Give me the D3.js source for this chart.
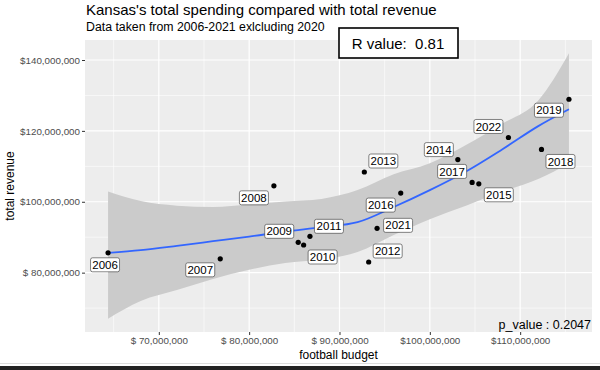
<!DOCTYPE html>
<meta charset="utf-8">
<style>
body { margin: 0; background: #fff; }
text { font-family: "Liberation Sans", Arial, sans-serif; }
</style>
<body>
<script src="https://cdn.jsdelivr.net/npm/d3@7"></script>
<script>

// data, in millions of dollars
var years   = ["2006","2007","2008","2009","2010","2011","2012","2013","2014","2015","2016","2017","2018","2019","2021","2022"];
var budget  = [64.38, 76.8, 82.74, 85.43, 86.03, 86.73, 93.23, 92.75, 103.1, 105.42, 96.78, 104.68, 112.36, 115.4, 94.16, 108.7];
var revenue = [85.6, 83.9, 104.5, 88.56, 87.8, 90.25, 83.0, 108.4, 111.9, 105.07, 102.45, 105.46, 114.76, 128.93, 92.5, 118.14];

// loess fit and its confidence band
var smoothX     = [64.38, 68, 72, 76, 80, 84, 88, 92, 96, 100, 104, 108, 112, 115.4];
var smoothFit   = [85.55, 86.37, 87.58, 88.87, 90.17, 91.61, 92.82, 94.23, 98.51, 103.27, 108.54, 114.76, 121.35, 126.11];
var smoothUpper = [102.9, 100.2, 98.9, 98.5, 99.2, 100.1, 100.8, 103.3, 107.8, 110.9, 116.0, 122.0, 128.6, 141.9];
var smoothLower = [67.0, 72.0, 75.1, 78.2, 80.8, 82.7, 83.7, 85.8, 90.6, 95.1, 98.9, 102.8, 106.4, 110.9];

var xTicks = [70, 80, 90, 100, 110];
var yTicks = [80, 100, 120, 140];
var xMinor = [65, 75, 85, 95, 105, 115];
var yMinor = [70, 90, 110, 130];

var rValue = "0.81";
var pValue = "0.2047";

// where the repelled labels ended up, relative to their point (px)
var labelShift = {
  "2006": [-3, 12], "2007": [-20, 11], "2008": [-20, 12], "2009": [-19, -11],
  "2010": [19, 12], "2011": [19, -10], "2012": [19, -11], "2013": [19, -11],
  "2014": [-19, -10], "2015": [20, 11], "2016": [-20, 12], "2017": [-20, -11],
  "2018": [19, 12], "2019": [-20, 11], "2021": [21, -3], "2022": [-20, -11]
};

var W = 600, H = 370;
var panel = {left: 85, right: 592, top: 40, bottom: 332};

function expand(lo, hi) {
  var e = (hi - lo) * 0.05;
  return [lo - e, hi + e];
}

var x = d3.scaleLinear()
  .domain(expand(d3.min(smoothX.concat(budget)), d3.max(smoothX.concat(budget))))
  .range([panel.left, panel.right]);
var y = d3.scaleLinear()
  .domain(expand(d3.min(smoothLower.concat(revenue)), d3.max(smoothUpper.concat(revenue))))
  .range([panel.bottom, panel.top]);

var svg = d3.select("body").append("svg")
  .attr("width", W).attr("height", H);

svg.append("rect").attr("width", W).attr("height", H).attr("fill", "#fff");

// panel
svg.append("rect")
  .attr("x", panel.left).attr("y", panel.top)
  .attr("width", panel.right - panel.left).attr("height", panel.bottom - panel.top)
  .attr("fill", "#ededed");

var grid = svg.append("g").attr("stroke", "#fff");
grid.selectAll(".xm").data(xMinor).enter().append("line")
  .attr("x1", d => x(d)).attr("x2", d => x(d))
  .attr("y1", panel.top).attr("y2", panel.bottom).attr("stroke-width", 0.6);
grid.selectAll(".ym").data(yMinor).enter().append("line")
  .attr("y1", d => y(d)).attr("y2", d => y(d))
  .attr("x1", panel.left).attr("x2", panel.right).attr("stroke-width", 0.6);
grid.selectAll(".xM").data(xTicks).enter().append("line")
  .attr("x1", d => x(d)).attr("x2", d => x(d))
  .attr("y1", panel.top).attr("y2", panel.bottom).attr("stroke-width", 1.2);
grid.selectAll(".yM").data(yTicks).enter().append("line")
  .attr("y1", d => y(d)).attr("y2", d => y(d))
  .attr("x1", panel.left).attr("x2", panel.right).attr("stroke-width", 1.2);

// smoother
var band = smoothX.map((d, i) => ({x: d, lo: smoothLower[i], hi: smoothUpper[i], f: smoothFit[i]}));

svg.append("path")
  .datum(band)
  .attr("fill", "#cbcbcb")
  .attr("d", d3.area().curve(d3.curveMonotoneX)
    .x(d => x(d.x)).y0(d => y(d.lo)).y1(d => y(d.hi)));

svg.append("path")
  .datum(band)
  .attr("fill", "none")
  .attr("stroke", "#3366ff")
  .attr("stroke-width", 1.8)
  .attr("d", d3.line().curve(d3.curveMonotoneX).x(d => x(d.x)).y(d => y(d.f)));

// points
var pts = years.map((yr, i) => ({year: yr, b: budget[i], r: revenue[i]}));

svg.append("g").selectAll("circle")
  .data(pts).enter().append("circle")
  .attr("cx", d => x(d.b)).attr("cy", d => y(d.r))
  .attr("r", 2.6).attr("fill", "#000");

// labels
var lab = svg.append("g").selectAll("g")
  .data(pts).enter().append("g")
  .attr("transform", d => "translate(" + (x(d.b) + labelShift[d.year][0]) + "," + (y(d.r) + labelShift[d.year][1]) + ")");
lab.append("rect")
  .attr("x", -14.5).attr("y", -7).attr("width", 29).attr("height", 14)
  .attr("rx", 2).attr("fill", "#fff").attr("stroke", "#333").attr("stroke-width", 0.6);
lab.append("text")
  .attr("text-anchor", "middle").attr("dy", "0.36em")
  .attr("font-size", 11.5).attr("fill", "#000")
  .text(d => d.year);

// axes
var money = d3.format(",");
function dollar(m) {
  var s = money(m * 1e6);
  return s.length < 11 ? "$ " + s : "$" + s;
}

var xAxis = svg.append("g")
  .attr("transform", "translate(0," + panel.bottom + ")")
  .call(d3.axisBottom(x).tickValues(xTicks).tickSize(3).tickPadding(2).tickFormat(dollar));
var yAxis = svg.append("g")
  .attr("transform", "translate(" + panel.left + ",0)")
  .call(d3.axisLeft(y).tickValues(yTicks).tickSize(3).tickPadding(2).tickFormat(dollar));

[xAxis, yAxis].forEach(function (a) {
  a.select(".domain").remove();
  a.selectAll(".tick line").attr("stroke", "#333");
  a.selectAll(".tick text")
    .attr("fill", "#4d4d4d").attr("font-size", 9.8)
    .attr("font-family", "Liberation Sans, Arial, sans-serif");
});

// titles
svg.append("text").attr("x", 86).attr("y", 15)
  .attr("font-size", 15).attr("fill", "#000")
  .text("Kansas's total spending compared with total revenue");
svg.append("text").attr("x", 86).attr("y", 31)
  .attr("font-size", 12.3).attr("fill", "#000")
  .text("Data taken from 2006-2021 exlcluding 2020");

svg.append("text")
  .attr("x", (panel.left + panel.right) / 2).attr("y", 359)
  .attr("text-anchor", "middle").attr("font-size", 12)
  .text("football budget");
svg.append("text")
  .attr("transform", "translate(14," + (panel.top + panel.bottom) / 2 + ") rotate(-90)")
  .attr("text-anchor", "middle").attr("font-size", 12)
  .text("total revenue");

// R value box
svg.append("rect")
  .attr("x", 339).attr("y", 28).attr("width", 119).attr("height", 30)
  .attr("fill", "#fff").attr("stroke", "#000").attr("stroke-width", 1.6);
svg.append("text")
  .attr("x", 398).attr("y", 49).attr("text-anchor", "middle")
  .attr("font-size", 15).attr("font-family", "Liberation Sans Narrow, Liberation Sans, sans-serif")
  .attr("xml:space", "preserve").style("white-space", "pre")
  .text("R value:  " + rValue);

svg.append("text")
  .attr("x", 591).attr("y", 329).attr("text-anchor", "end")
  .attr("font-size", 12.5).attr("fill", "#000")
  .text("p_value : " + pValue);

// screenshot frame at the bottom
svg.append("line").attr("x1", 0).attr("x2", W).attr("y1", 363.5).attr("y2", 363.5)
  .attr("stroke", "#ddd").attr("stroke-width", 1);
svg.append("rect").attr("x", 0).attr("y", 366).attr("width", W).attr("height", 4).attr("fill", "#222");

</script>
</body>
